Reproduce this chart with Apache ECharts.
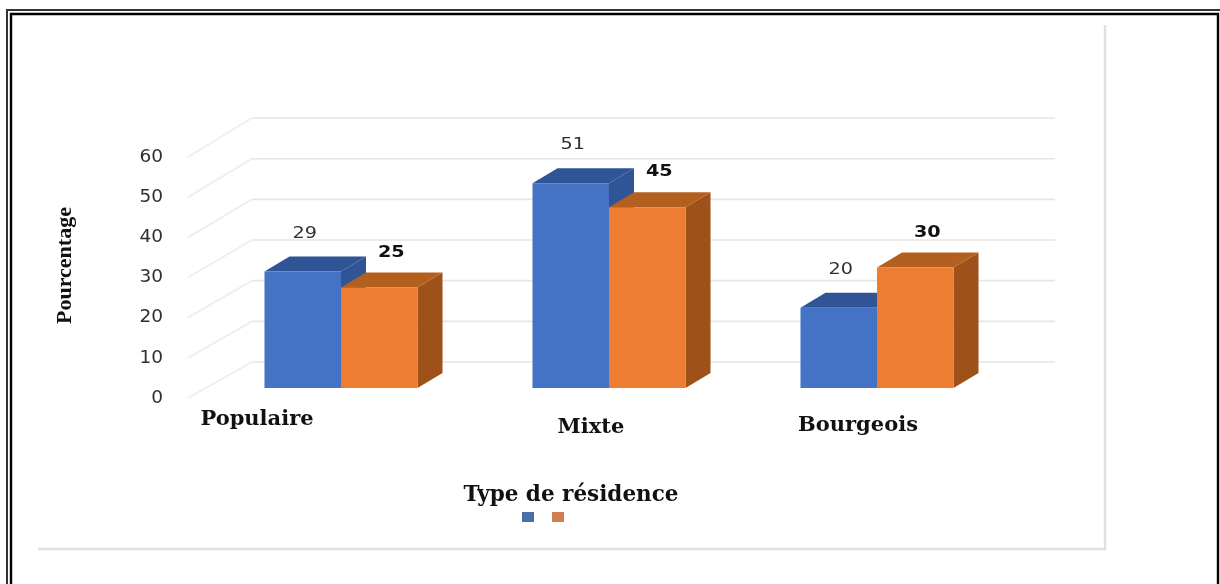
<!DOCTYPE html>
<html>
<head>
<meta charset="utf-8">
<style>html,body{margin:0;padding:0;background:#fff}#c{width:1220px;height:584px}</style>
<script src="https://cdn.jsdelivr.net/npm/echarts@6/dist/echarts.min.js"></script>
</head>
<body>
<div id="c"></div>
<script>
const categories = ['Populaire', 'Mixte', 'Bourgeois'];
const seriesNames = ['Série 1', 'Série 2'];
const blueValues = [29, 51, 20];
const orangeValues = [25, 45, 30];
const yTicks = [0, 10, 20, 30, 40, 50, 60];

// Oblique projection constants (pixels)
const BAR_DEPTH = [25, -15];
const BAR_LIFT = -10;
const WALL_OFFSET_X = 64;
const WALL_LEFT = -153;   // from first category centre
const WALL_RIGHT = 178;   // from last category centre
const WALL_ZERO_Y = -36;
const WALL_SCALE = 1.0124;

const poly = (points, fill) => ({ type: 'polygon', shape: { points }, style: { fill } });

function barRenderer(side, front, top, dark, label) {
  return function (params, api) {
    const i = api.value(0), v = api.value(1);
    const bw = api.size([1, 0])[0] * 0.2855;
    const c = api.coord([i, v]), b = api.coord([i, 0]);
    const x0 = side === 0 ? c[0] - bw : c[0], x1 = x0 + bw;
    const yT = c[1] + BAR_LIFT, yB = b[1] + BAR_LIFT;
    const [dx, dy] = BAR_DEPTH;
    return {
      type: 'group',
      children: [
        poly([[x1, yT], [x1 + dx, yT + dy], [x1 + dx, yB + dy], [x1, yB]], dark),
        poly([[x0, yT], [x0 + dx, yT + dy], [x1 + dx, yT + dy], [x1, yT]], top),
        { type: 'rect', shape: { x: x0, y: yT, width: bw, height: yB - yT }, style: { fill: front } },
        { type: 'text', x: (x0 + x1) / 2 + label.dx, y: yT + label.dy, scaleX: 1.2,
          style: { text: String(v), fill: label.color, font: label.font, align: 'center', verticalAlign: 'middle' } }
      ]
    };
  };
}

function wallRenderer(params, api) {
  const v = api.value(0);
  const yFront = api.coord([0, v])[1];
  const yZero = api.coord([0, 0])[1];
  const xFront = api.coord([0, v])[0] + WALL_LEFT;
  const xBack = xFront + WALL_OFFSET_X;
  const xEnd = api.coord([2, v])[0] + WALL_RIGHT;
  const yBack = yZero + WALL_ZERO_Y - (yZero - yFront) * WALL_SCALE;
  return {
    type: 'group',
    children: [
      { type: 'line', shape: { x1: xFront, y1: yFront, x2: xBack, y2: yBack },
        style: { stroke: '#efefef', lineWidth: 2 } },
      { type: 'line', shape: { x1: xBack, y1: yBack, x2: xEnd, y2: yBack },
        style: { stroke: '#e6e6e6', lineWidth: 1.6 } }
    ]
  };
}

const labelPads = [
  [11, 168, 0, 0],
  [19, 36, 0, 0],
  [17, 38, 0, 0]
];

const chart = echarts.init(document.getElementById('c'), null, { renderer: 'canvas' });
chart.setOption({
  animation: false,
  backgroundColor: '#ffffff',
  color: ['#4472C4', '#ED7D31'],
  title: {
    text: 'Type de résidence',
    left: 566, top: 479, textAlign: 'center',
    textStyle: { fontFamily: 'DejaVu Serif', fontWeight: 'bold', fontSize: 21.5, color: '#111' }
  },
  legend: {
    left: 522, top: 512, itemWidth: 12, itemHeight: 10, itemGap: 18, padding: 0, icon: 'rect',
    formatter: () => '',
    textStyle: { fontSize: 1, padding: 0 },
    data: [
      { name: seriesNames[0], itemStyle: { color: '#4a6ea8' } },
      { name: seriesNames[1], itemStyle: { color: '#d08050' } }
    ]
  },
  grid: { left: 207, width: 804, top: 157, height: 241 },
  xAxis: {
    type: 'category',
    data: categories.map((c, i) => ({ value: c, textStyle: { padding: labelPads[i] } })),
    axisLine: { show: false }, axisTick: { show: false },
    axisLabel: { interval: 0, margin: 0, fontFamily: 'DejaVu Serif', fontWeight: 'bold', fontSize: 21, color: '#111' }
  },
  yAxis: {
    type: 'value', min: 0, max: 60, interval: 10,
    name: 'Pourcentage', nameLocation: 'middle', nameGap: 131, nameRotate: 90,
    nameTextStyle: { fontFamily: 'Liberation Serif', fontWeight: 'bold', fontSize: 22, color: '#111', padding: [0, 0, 0, 24] },
    axisLine: { show: false }, axisTick: { show: false }, splitLine: { show: false },
    axisLabel: { margin: 44, fontFamily: 'DejaVu Sans', fontSize: 18.5, color: '#2f2f2f', fontWeight: 500, padding: [6, 0, 0, 0] }
  },
  graphic: [
    { type: 'line', shape: { x1: 7, y1: 584, x2: 7, y2: 10 }, style: { stroke: '#333', lineWidth: 2 } },
    { type: 'line', shape: { x1: 6, y1: 10, x2: 1220, y2: 10 }, style: { stroke: '#333', lineWidth: 2 } },
    { type: 'polyline', shape: { points: [[11, 584], [11, 14], [1218, 14], [1218, 584]] }, style: { stroke: '#000', lineWidth: 2.4, fill: 'none' } },
    { type: 'polyline', shape: { points: [[38, 549], [1105, 549], [1105, 25]] }, style: { stroke: '#dfdfdf', lineWidth: 2.4, fill: 'none' } }
  ],
  series: [
    { type: 'custom', name: 'wall', silent: true, z: 1, renderItem: wallRenderer, encode: { y: 0 },
      data: yTicks.map(v => [v]) },
    { type: 'custom', name: seriesNames[0], z: 2, encode: { x: 0, y: 1 },
      renderItem: barRenderer(0, '#4472C4', '#2F5597', '#2F5597',
        { dx: 2, dy: -38, color: '#2f2f2f', font: '500 16px "DejaVu Sans"' }),
      data: blueValues.map((v, i) => [i, v]) },
    { type: 'custom', name: seriesNames[1], z: 3, encode: { x: 0, y: 1 },
      renderItem: barRenderer(1, '#ED7D31', '#B3601F', '#9E5219',
        { dx: 12, dy: -35, color: '#111', font: 'bold 16px "DejaVu Sans"' }),
      data: orangeValues.map((v, i) => [i, v]) }
  ]
});
</script>
</body>
</html>
